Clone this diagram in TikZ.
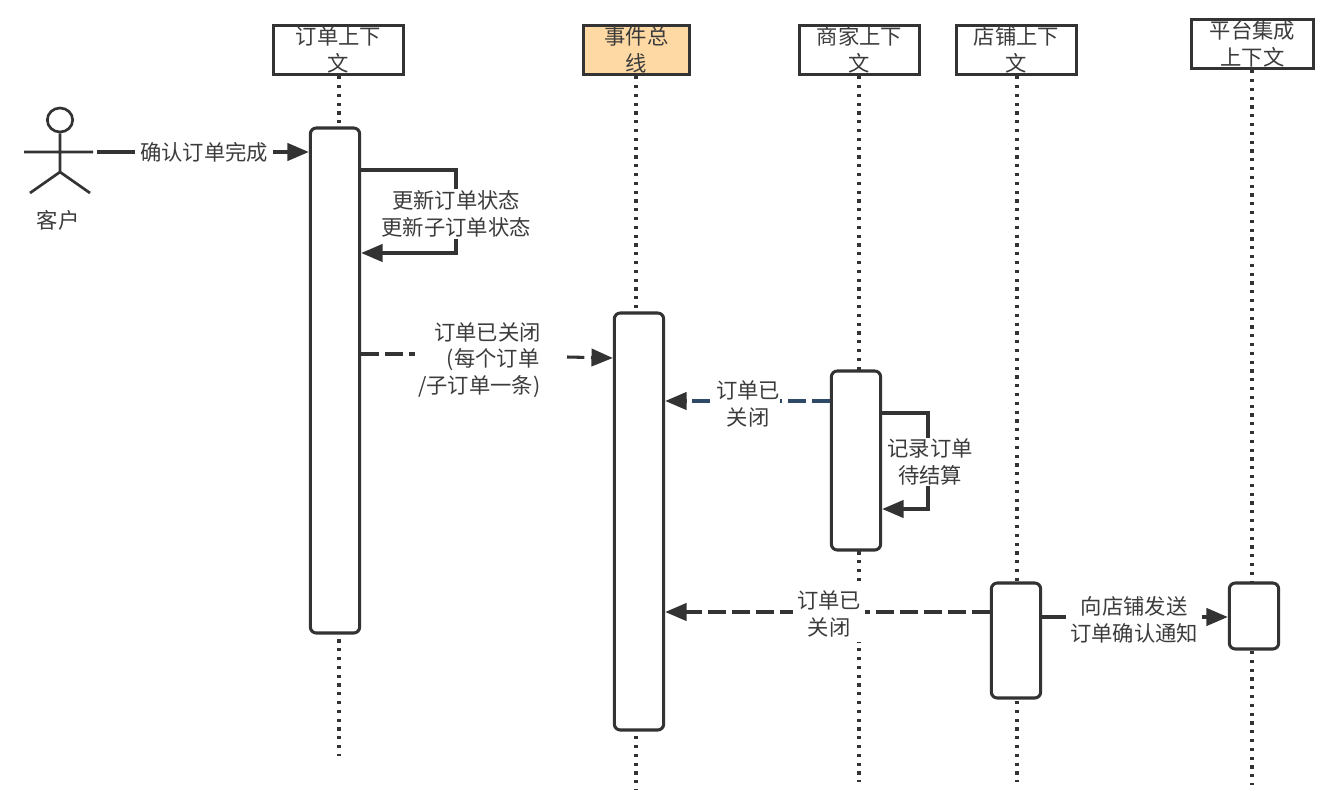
\documentclass[tikz,border=0pt]{standalone}
\usepackage{fontspec}
\setmainfont{Noto Sans CJK SC}
\usetikzlibrary{arrows.meta,shapes.geometric}
\definecolor{ink}{HTML}{333333}
\definecolor{txt}{HTML}{3C3C3C}
\definecolor{busfill}{HTML}{FFD9A3}
\definecolor{bluedash}{HTML}{2F4A68}
\tikzset{
  headbox/.style={draw=ink,line width=2.4pt,fill=white,inner sep=0pt,text=txt,align=center,minimum height=37pt},
  activation/.style={draw=ink,line width=2.3pt,fill=white,rounded corners=4.5pt,inner sep=0pt,minimum width=37pt},
  lifeline/.style={draw=ink,line width=2.5pt,dash pattern=on 2.3pt off 4.3pt},
  solidmsg/.style={draw=ink,line width=2.3pt,-{Triangle[length=16pt,width=13pt,color=ink]}},
  dashmsg/.style={solidmsg,dash pattern=on 13pt off 5pt},
  msglabel/.style={fill=white,text=txt,align=center,inner sep=0pt},
  every node/.append style={font=\fontsize{16pt}{20pt}\selectfont}
}
\begin{document}
\begin{tikzpicture}[x=0.75pt,y=-0.75pt]
\useasboundingbox[fill=white] (0,0) rectangle (1335,799);

% participant headers
\node[headbox,minimum width=97pt] (hOrder) at (338.5,50) {订单上下\\文};
\node[headbox,minimum width=79pt,fill=busfill] (hBus) at (636.5,50) {事件总\\线};
\node[headbox,minimum width=90pt] (hShop) at (859.5,50) {商家上下\\文};
\node[headbox,minimum width=90pt] (hStore) at (1016.5,50) {店铺上下\\文};
\node[headbox,minimum width=91pt] (hPlat) at (1252.5,44) {平台集成\\上下文};

% lifeline ends
\coordinate (eOrder) at (339,756);
\coordinate (eBus) at (636,790);
\coordinate (eShop) at (859,782);
\coordinate (eStore) at (1017,782);
\coordinate (ePlat) at (1252,785);
\draw[lifeline] (hOrder.south -| eOrder) -- (eOrder);
\draw[lifeline] (hBus.south -| eBus) -- (eBus);
\draw[lifeline] (hShop.south -| eShop) -- (eShop);
\draw[lifeline] (hStore.south -| eStore) -- (eStore);
\draw[lifeline] (hPlat.south -| ePlat) -- (ePlat);

% activation bars
\node[activation,minimum height=378.75pt] (aOrder) at (335,380.5) {};
\node[activation,minimum height=312.75pt] (aBus) at (639,521.5) {};
\node[activation,minimum height=134.25pt] (aShop) at (856,460.5) {};
\node[activation,minimum height=86.25pt] (aStore) at (1016,640.5) {};
\node[activation,minimum height=49.5pt] (aPlat) at (1254,616) {};

% customer stick figure
\node[draw=ink,line width=2pt,ellipse,minimum width=19pt,minimum height=18pt,inner sep=0pt] (head) at (60,120) {};
\coordinate (armL) at (24,152);
\coordinate (armR) at (93,152);
\coordinate (hip) at (60,172);
\coordinate (footL) at (30,193);
\coordinate (footR) at (90,193);
\coordinate (confirmStart) at (97,152);
\draw[ink,line width=2pt] (head.south) -- (hip) (armL) -- (armR) (footL) -- (hip) -- (footR);
\node[text=txt,inner sep=0pt] (customer) at (58,220) {客户};

% messages
\draw[solidmsg] (confirmStart) -- (aOrder.west |- 0,152);
\node[msglabel,inner xsep=4pt,inner ysep=2pt] (mConfirm) at (204,152) {确认订单完成};

\draw[solidmsg] (aOrder.east |- 0,170) -- (456,170) -- (456,253) -- (aOrder.east |- 0,253);
\node[msglabel,inner ysep=1pt] (mUpdate) at (456,214) {更新订单状态\\更新子订单状态};

\node[text=txt,inner sep=0pt,align=left,anchor=west] (mClosedA) at (418,360)
  {\hspace*{12pt}订单已关闭\\\hspace*{21.5pt}(每个订单\\/子订单一条)};
\coordinate (closedStop) at (415,354);
\coordinate (closedResume) at (567,357);
\draw[dashmsg,-] (aOrder.east |- 0,354) -- (closedStop);
\draw[dashmsg] (closedResume) -- (aBus.west |- 0,358);

\draw[dashmsg,draw=bluedash] (aShop.west |- 0,401) -- (aBus.east |- 0,401);
\node[msglabel] (mClosedB) at (748,404) {订单已\\关闭};

\draw[solidmsg] (aShop.east |- 0,413) -- (928,413) -- (928,509) -- (aShop.east |- 0,509);
\node[msglabel,inner ysep=1pt] (mRecord) at (930,462) {记录订单\\待结算};

\draw[dashmsg] (aStore.west |- 0,612) -- (aBus.east |- 0,612);
\node[msglabel,inner xsep=3pt,inner ysep=4pt] (mClosedC) at (829,614) {订单已\\关闭};

\draw[solidmsg] (aStore.east |- 0,617) -- (aPlat.west |- 0,617);
\node[msglabel,inner xsep=3pt,inner ysep=1pt] (mNotify) at (1134,620) {向店铺发送\\订单确认通知};
\end{tikzpicture}
\end{document}
